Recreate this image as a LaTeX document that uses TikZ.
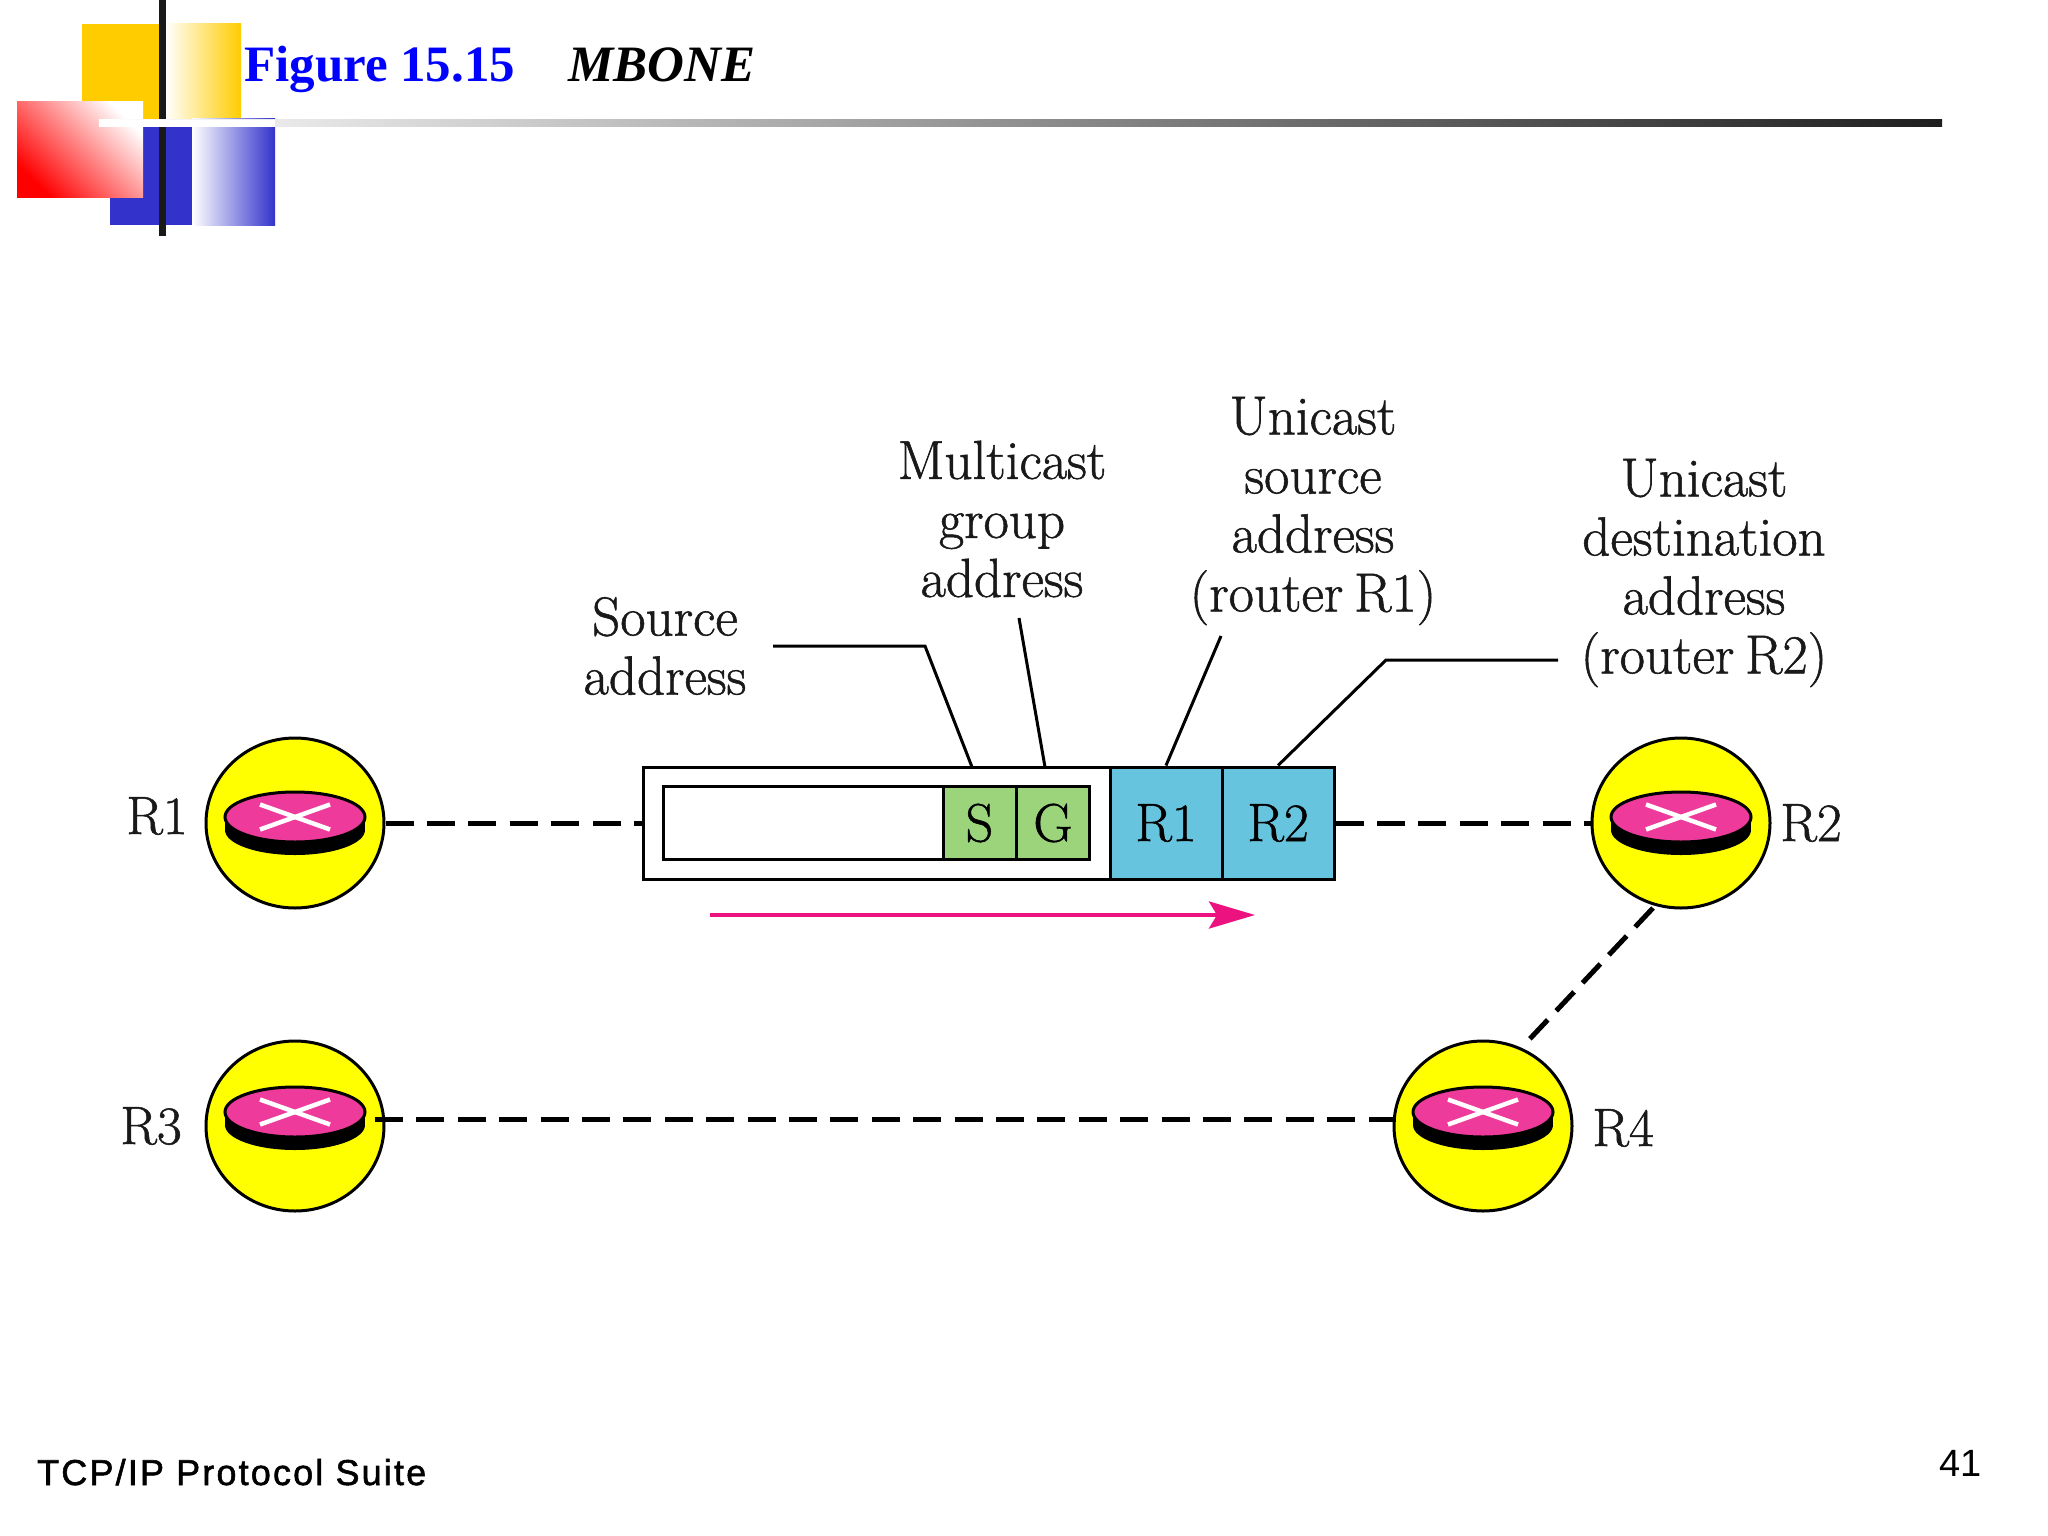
\documentclass[tikz,border=0pt]{standalone}
\usepackage{fontspec}
\setmainfont{Latin Modern Roman}
\newfontfamily\lblf[FakeBold=1,WordSpace=0.65]{Latin Modern Roman}
\newfontfamily\timesf{Liberation Serif}
\newfontfamily\arialf{Liberation Sans}
\newfontfamily\footf[LetterSpace=6,FakeBold=1.5]{Liberation Sans}
\usetikzlibrary{shapes.geometric,arrows.meta}
\definecolor{cyel}{HTML}{FFCC00}
\definecolor{cblu}{HTML}{3333CC}
\definecolor{cpink}{HTML}{EE3A9B}
\definecolor{cgreen}{HTML}{9CD47C}
\definecolor{ccyan}{HTML}{66C4DE}
\definecolor{carrow}{HTML}{EC1380}
\definecolor{ctitle}{HTML}{0000FF}
\definecolor{cyolk}{HTML}{FFFF00}
\definecolor{cred}{HTML}{FF0000}
\tikzset{
  routernode/.style={ellipse,draw=black,line width=3pt,fill=cyolk,minimum width=178pt,minimum height=170pt,inner sep=0pt},
  lbl/.style={font=\lblf\fontsize{55}{59}\selectfont,align=center,inner sep=0pt,text=black!90},
  rlabel/.style={font=\lblf\fontsize{54}{59}\selectfont,inner sep=0pt,text=black!90},
  cell/.style={draw=black,line width=3pt,minimum height=112pt,minimum width=112pt,inner sep=0pt,fill=ccyan,font=\lblf\fontsize{54}{59}\selectfont},
  smallcell/.style={draw=black,line width=3pt,minimum height=73pt,minimum width=73pt,inner sep=0pt,fill=cgreen,font=\lblf\fontsize{54}{59}\selectfont},
  dashline/.style={line width=5pt,dash pattern=on 28pt off 13.4pt},
  diagdash/.style={line width=5pt,dash pattern=on 26pt off 12.4pt},
  leader/.style={line width=3pt},
}
% #1 node, #2 vertical offset of the disc against the node centre
\newcommand{\routerdisc}[2]{%
  \fill[black] ([shift={(-70,#2)}]#1.center) rectangle ([shift={(70,#2+13)}]#1.center);
  \fill[black] ([shift={(0,#2+13)}]#1.center) ellipse [x radius=70pt,y radius=25pt];
  \draw[black,fill=cpink,line width=3pt] ([shift={(0,#2)}]#1.center) ellipse [x radius=70pt,y radius=25pt];
  \draw[white,line width=4.5pt] ([shift={(-35,#2-12.5)}]#1.center) -- ([shift={(35,#2+12.5)}]#1.center);
  \draw[white,line width=4.5pt] ([shift={(-35,#2+12.5)}]#1.center) -- ([shift={(35,#2-12.5)}]#1.center);
}
\begin{document}
\begin{tikzpicture}[x=1pt,y=-1pt]
\useasboundingbox (0,0) rectangle (2048,1536);
\fill[white] (0,0) rectangle (2048,1536);
% decoration
\fill[cyel] (82,24) rectangle (165,120);
\shade[left color=white,right color=cyel] (165,24) rectangle (241,120);
\fill[cblu] (110,119) rectangle (192,225);
\shade[left color=white,right color=cblu] (192,119) rectangle (275,225);
\fill[black!90] (159,0) rectangle (166,236);
\shade[top color=white,bottom color=cred,shading angle=-45] (17,102) rectangle (143,197);
\shade[left color=white,right color=black!88] (99,120) rectangle (1942,127);
\fill[white] (99,120) rectangle (275,127);
% title
\node[anchor=base west,inner sep=0pt,font=\timesf\bfseries\fontsize{51}{60}\selectfont,text=ctitle] (title) at (244,82) {Figure 15.15};
\node[anchor=base west,inner sep=0pt,font=\timesf\bfseries\itshape\fontsize{51}{60}\selectfont] (mbone) at (568,82) {MBONE};
% routers
\node[routernode] (R1) at (295,823) {};
\node[routernode] (R2) at (1681,823) {};
\node[routernode] (R3) at (295,1126) {};
\node[routernode] (R4) at (1483,1126) {};
\routerdisc{R1}{-6}\routerdisc{R2}{-6}\routerdisc{R3}{-14}\routerdisc{R4}{-14}
% packet
\node[draw=black,line width=3pt,fill=white,minimum width=468pt,minimum height=112pt,inner sep=0pt] (outer) at (877,823) {};
\node[draw=black,line width=3pt,fill=white,minimum width=280pt,minimum height=73pt,inner sep=0pt] (inner) at (803,823) {};
\node[smallcell] (S) at (979.5,823) {S};
\node[smallcell] (G) at (1053,823) {G};
\node[cell] (cR1) at (1166,823) {R1};
\node[cell] (cR2) at (1278,823) {R2};
% connectors
\draw[dashline] (R1.east) -- (outer.west);
\draw[dashline] (cR2.east) -- (R2.west);
\coordinate (r2out) at (1653,908);
\coordinate (r4top) at (1525,1044);
\draw[diagdash] (r2out) -- (r4top);
\coordinate (r3out) at (375,1119);
\coordinate (r4in) at (1396,1119);
\draw[dashline] (r3out) -- (r4in);
% arrow
\coordinate (aL) at (710,915);
\coordinate (aR) at (1255,915);
\draw[carrow,line width=4pt,-{Stealth[length=46pt,width=27pt,inset=8pt]}] (aL) -- (aR);
% labels
\node[lbl] (lSrc) at (665,646) {Source\\address};
\node[lbl] (lMul) at (1002,519) {Multicast\\group\\address};
\node[lbl] (lUS) at (1313,511) {Unicast\\source\\address\\(router R1)};
\node[lbl] (lUD) at (1704,573) {Unicast\\destination\\address\\(router R2)};
\node[rlabel] (tR1) at (157,816) {R1};
\node[rlabel] (tR2) at (1811,823) {R2};
\node[rlabel] (tR3) at (151,1126) {R3};
\node[rlabel] (tR4) at (1623,1128) {R4};
% leaders
\coordinate (a1) at (773,646);
\coordinate (a2) at (925,646);
\coordinate (a3) at (972,767);
\draw[leader] (a1) -- (a2) -- (a3);
\coordinate (b1) at (1019,618);
\coordinate (b2) at (1045,767);
\draw[leader] (b1) -- (b2);
\coordinate (c1) at (1221,636);
\draw[leader] (c1) -- (cR1.north);
\coordinate (d1) at (1558,660);
\coordinate (d2) at (1386,660);
\draw[leader] (d1) -- (d2) -- (cR2.north);
% footer
\node[anchor=base west,inner sep=0pt,font=\footf\fontsize{36}{42}\selectfont] (foot) at (37,1485) {TCP/IP Protocol Suite};
\node[anchor=base east,inner sep=0pt,font=\arialf\fontsize{38}{44}\selectfont] (page) at (1982,1476) {41};
\end{tikzpicture}
\end{document}
